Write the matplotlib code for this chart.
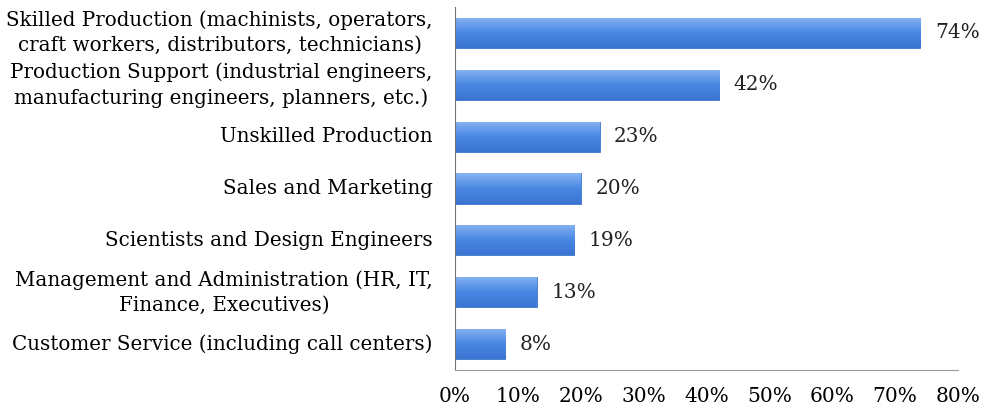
import matplotlib.pyplot as plt
import numpy as np

categories = [
    "Skilled Production (machinists, operators,\ncraft workers, distributors, technicians)",
    "Production Support (industrial engineers,\nmanufacturing engineers, planners, etc.)",
    "Unskilled Production",
    "Sales and Marketing",
    "Scientists and Design Engineers",
    "Management and Administration (HR, IT,\nFinance, Executives)",
    "Customer Service (including call centers)",
]
values = [74, 42, 23, 20, 19, 13, 8]
x_ticks = [0, 10, 20, 30, 40, 50, 60, 70, 80]

plt.rcParams['font.family'] = ['DejaVu Serif']

fig = plt.figure(figsize=(9.84, 4.09), dpi=100)
ax = fig.add_axes([0.4624, 0.0954, 0.5112, 0.8876])

y = np.arange(len(categories))
bars = ax.barh(y, values, height=0.58, color='#4f8ae3', edgecolor='#3f76cc', linewidth=0.6)

# gradient fill on each bar (lighter on top)
cmap = plt.matplotlib.colors.LinearSegmentedColormap.from_list(
    'g', ['#86b4f3', '#4a87e3', '#3a74d2'])
grad = np.linspace(0, 1, 64).reshape(-1, 1)
for b in bars:
    x0, y0 = b.get_x(), b.get_y()
    w, h = b.get_width(), b.get_height()
    im = ax.imshow(grad, extent=[x0, x0 + w, y0 + h, y0], aspect='auto',
                   cmap=cmap, zorder=2)
    im.set_clip_path(b)

for yi, v in zip(y, values):
    ax.text(v + 2.3, yi, f"{v}%", va='center', ha='left', fontsize=14.5, color='#222222')

ax.set_yticks(y)
ax.set_yticklabels(categories, fontsize=14.3, linespacing=1.4, ha='right',
                   va='center', multialignment='center')
ax.tick_params(axis='y', length=0, pad=16)
ax.set_ylim(len(categories) - 0.5, -0.5)

ax.set_xlim(0, 80)
ax.set_xticks(x_ticks)
ax.set_xticklabels([f"{t}%" for t in x_ticks], fontsize=14.5)
ax.tick_params(axis='x', length=0, pad=12)

for s in ['top', 'right']:
    ax.spines[s].set_visible(False)
ax.spines['left'].set_color('#777777')
ax.spines['bottom'].set_color('#999999')

fig.savefig('out.png', dpi=100)
